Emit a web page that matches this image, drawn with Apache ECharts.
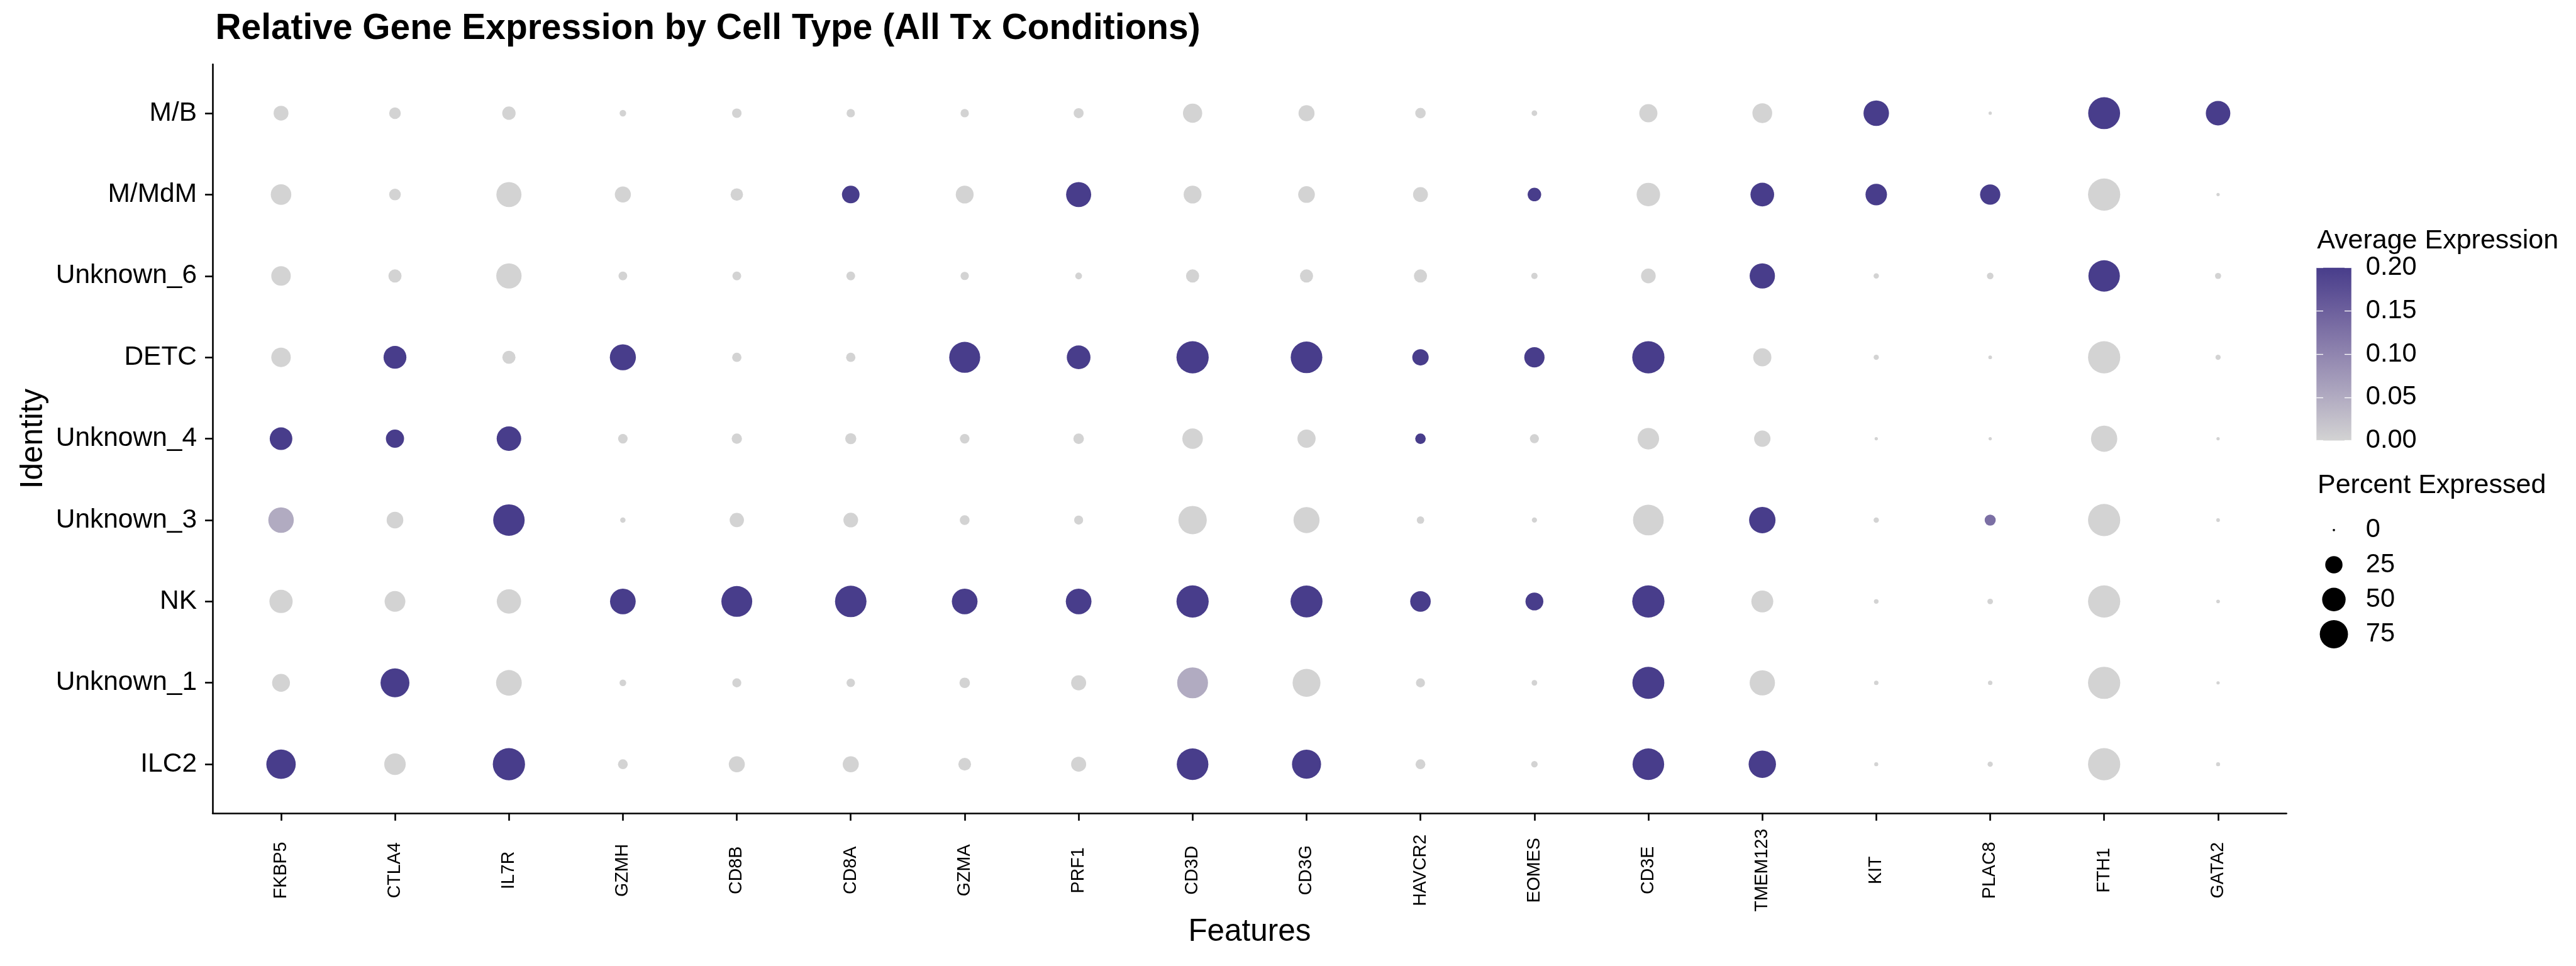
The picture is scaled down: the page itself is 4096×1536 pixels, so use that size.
<!DOCTYPE html>
<html><head><meta charset="utf-8">
<script src="https://cdn.jsdelivr.net/npm/echarts@6/dist/echarts.min.js"></script>
<style>html,body{margin:0;padding:0;background:#fff;} #c{width:4096px;height:1536px;}</style>
</head><body><div id="c"></div>
<script>
// ---------------- data ----------------
const features = ['FKBP5','CTLA4','IL7R','GZMH','CD8B','CD8A','GZMA','PRF1','CD3D','CD3G','HAVCR2','EOMES','CD3E','TMEM123','KIT','PLAC8','FTH1','GATA2'];
// bottom to top
const identities = ['ILC2','Unknown_1','NK','Unknown_3','Unknown_4','DETC','Unknown_6','M/MdM','M/B'];

// Percent expressed (per identity, in feature order)
const pct_MB    = [17.5, 9.7, 13.7, 2.0, 5.7, 4.0, 4.0, 6.5, 32, 21, 7.4, 1.2, 28, 34, 60, 0.1, 98, 55];
const pct_MMdM  = [37, 9.7, 58, 21, 11.4, 26, 27, 58, 27, 23, 17.5, 14, 50, 51, 41, 36, 100, 0.1];
const pct_U6    = [33, 13, 59, 4.6, 4.6, 4.6, 4.0, 2.2, 13, 13, 13, 1.8, 17, 59, 1.0, 2.0, 95, 1.6];
const pct_DETC  = [33, 47, 13, 63, 5.4, 5.4, 92, 51, 100, 96, 22, 36, 100, 28, 0.9, 0.2, 100, 0.9];
const pct_U4    = [46, 28, 55, 5.8, 7.1, 8.5, 5.8, 7.5, 37, 28, 7.5, 5.0, 41, 22, 0.1, 0.1, 64, 0.1];
const pct_U3    = [60, 23, 95, 1.0, 16, 17, 6.2, 5.0, 76, 63, 2.9, 0.9, 90, 65, 1.0, 8.5, 100, 0.2];
const pct_NK    = [49, 38, 54, 61, 91, 95, 61, 61, 100, 98, 37, 27, 100, 43, 0.6, 1.2, 100, 0.2];
const pct_U1    = [27, 79, 61, 2.1, 5.0, 4.2, 7.5, 18, 91, 73, 5.0, 1.2, 98, 59, 0.5, 0.5, 100, 0.1];
const pct_ILC2  = [82, 41, 100, 6.2, 21, 21, 12, 18, 96, 80, 6.2, 1.9, 96, 70, 0.3, 0.9, 100, 0.3];

// Average expression (per identity, in feature order)
const avg_MB    = [0,0,0,0,0,0,0,0,0,0,0,0,0,0,0.2,0,0.2,0.2];
const avg_MMdM  = [0,0,0,0,0,0.2,0,0.2,0,0,0,0.2,0,0.2,0.2,0.2,0,0];
const avg_U6    = [0,0,0,0,0,0,0,0,0,0,0,0,0,0.2,0,0,0.2,0];
const avg_DETC  = [0,0.2,0,0.2,0,0,0.2,0.2,0.2,0.2,0.2,0.2,0.2,0,0,0,0,0];
const avg_U4    = [0.2,0.2,0.2,0,0,0,0,0,0,0,0.2,0,0,0,0,0,0,0];
const avg_U3    = [0.05,0,0.2,0,0,0,0,0,0,0,0,0,0,0.2,0,0.13,0,0];
const avg_NK    = [0,0,0,0.2,0.2,0.2,0.2,0.2,0.2,0.2,0.2,0.2,0.2,0,0,0,0,0];
const avg_U1    = [0,0.2,0,0,0,0,0,0,0.05,0,0,0,0.2,0,0,0,0,0];
const avg_ILC2  = [0.2,0,0.2,0,0,0,0,0,0.2,0.2,0,0,0.2,0.2,0,0,0,0];

const colorTicks = [0, 0.05, 0.10, 0.15, 0.20];
const sizeBreaks = [0, 25, 50, 75];
const gradColors = ['#D3D3D3','#B1ABC1','#9085AF','#6D609D','#483D8B'];

// ---------------- build ----------------
const pctRows = [pct_ILC2, pct_U1, pct_NK, pct_U3, pct_U4, pct_DETC, pct_U6, pct_MMdM, pct_MB];
const avgRows = [avg_ILC2, avg_U1, avg_NK, avg_U3, avg_U4, avg_DETC, avg_U6, avg_MMdM, avg_MB];
const dots = [];
identities.forEach((id, i) => {
  features.forEach((f, j) => {
    dots.push([j, i, avgRows[i][j], pctRows[i][j]]);
  });
});

const S = 4096 / 4724;
const px = v => v * S;
function dotSize(p) { return px(4.31 + 5.478 * Math.sqrt(Math.min(p, 100))); }
const FONT = 'Liberation Sans';

const option = {
  animation: false,
  backgroundColor: '#ffffff',
  textStyle: { fontFamily: FONT, color: '#000' },
  title: [
    { text: 'Relative Gene Expression by Cell Type (All Tx Conditions)', left: px(395), top: 18, padding: 0,
      textStyle: { fontFamily: FONT, fontSize: px(65.6), fontWeight: 'bold', color: '#000' } },
    { text: 'Average Expression', left: px(4249), top: 362, padding: 0,
      textStyle: { fontFamily: FONT, fontSize: px(49.6), fontWeight: 'normal', color: '#000' } },
    { text: 'Percent Expressed', left: px(4250), top: 751, padding: 0,
      textStyle: { fontFamily: FONT, fontSize: px(49.6), fontWeight: 'normal', color: '#000' } }
  ],
  grid: [
    { left: px(390), top: px(118), width: px(3803), height: px(1373) },
    { left: px(4248), top: px(491), width: px(64), height: px(317) },
    { left: px(4248), top: px(940.2), width: px(64), height: px(254.7) }
  ],
  xAxis: [
    { type: 'value', gridIndex: 0, min: -0.6, max: 17.6, position: 'bottom',
      splitLine: { show: false },
      axisLine: { show: true, onZero: false, lineStyle: { color: '#000', width: px(3) } },
      axisTick: { show: true, customValues: features.map((_, i) => i), length: px(14), lineStyle: { color: '#000', width: px(3) } },
      axisLabel: { customValues: features.map((_, i) => i), formatter: v => features[Math.round(v)],
        rotate: 90, align: 'center', verticalAlign: 'middle', margin: px(105),
        fontFamily: FONT, fontSize: px(33), color: '#000', padding: [px(22), 0, 0, 0] },
      name: 'Features', nameLocation: 'middle', nameGap: px(219),
      nameTextStyle: { fontFamily: FONT, fontSize: px(57), color: '#000', verticalAlign: 'middle' } },
    { type: 'category', gridIndex: 1, data: ['c'], show: false },
    { type: 'category', gridIndex: 2, data: ['s'], show: false }
  ],
  yAxis: [
    { type: 'value', gridIndex: 0, min: -0.6, max: 8.6, position: 'left',
      splitLine: { show: false },
      axisLine: { show: true, onZero: false, lineStyle: { color: '#000', width: px(3) } },
      axisTick: { show: true, customValues: identities.map((_, i) => i), length: px(14), lineStyle: { color: '#000', width: px(3) } },
      axisLabel: { customValues: identities.map((_, i) => i), formatter: v => identities[Math.round(v)],
        margin: px(29), fontFamily: FONT, fontSize: px(49), color: '#000' },
      name: 'Identity', nameLocation: 'middle', nameRotate: 90, nameGap: px(295),
      nameTextStyle: { fontFamily: FONT, fontSize: px(57), color: '#000', verticalAlign: 'middle', align: 'center' } },
    { type: 'value', gridIndex: 1, min: 0, max: 0.2, interval: 0.05, position: 'right', z: 10,
      splitLine: { show: false }, axisLine: { show: false, onZero: false },
      axisTick: { show: true, inside: true, length: px(12.4), lineStyle: { color: '#fff', width: px(1.5) } },
      axisLabel: { formatter: v => v.toFixed(2), margin: px(26.5), fontFamily: FONT, fontSize: px(48), color: '#000' } },
    { type: 'value', gridIndex: 1, min: 0, max: 0.2, interval: 0.05, position: 'left', z: 10,
      splitLine: { show: false }, axisLine: { show: false, onZero: false },
      axisTick: { show: true, inside: true, length: px(12.4), lineStyle: { color: '#fff', width: px(1.5) } },
      axisLabel: { show: false } },
    { type: 'category', gridIndex: 2, data: sizeBreaks.map(String), inverse: true, position: 'right',
      axisLine: { show: false, onZero: false }, axisTick: { show: false }, splitLine: { show: false },
      axisLabel: { margin: px(26.5), fontFamily: FONT, fontSize: px(48), color: '#000' } }
  ],
  visualMap: [
    { type: 'continuous', show: false, seriesIndex: 0, dimension: 2, min: colorTicks[0], max: colorTicks[colorTicks.length - 1],
      inRange: { color: gradColors } }
  ],
  series: [
    { type: 'scatter', xAxisIndex: 0, yAxisIndex: 0, data: dots, symbol: 'circle',
      symbolSize: v => dotSize(v[3]), itemStyle: { opacity: 1 }, silent: true },
    { type: 'bar', xAxisIndex: 1, yAxisIndex: 1, data: [colorTicks[colorTicks.length - 1]], barWidth: '100%', silent: true,
      itemStyle: { color: { type: 'linear', x: 0, y: 1, x2: 0, y2: 0,
        colorStops: gradColors.map((c, i) => ({ offset: i / (gradColors.length - 1), color: c })) } } },
    { type: 'scatter', xAxisIndex: 2, yAxisIndex: 3, symbol: 'circle',
      data: sizeBreaks.map((b, i) => [0, i, b]), symbolSize: v => dotSize(v[2]),
      itemStyle: { color: '#000', opacity: 1 }, silent: true }
  ]
};
const chart = echarts.init(document.getElementById('c'), null, { renderer: 'canvas' });
chart.setOption(option);
</script>
</body></html>
